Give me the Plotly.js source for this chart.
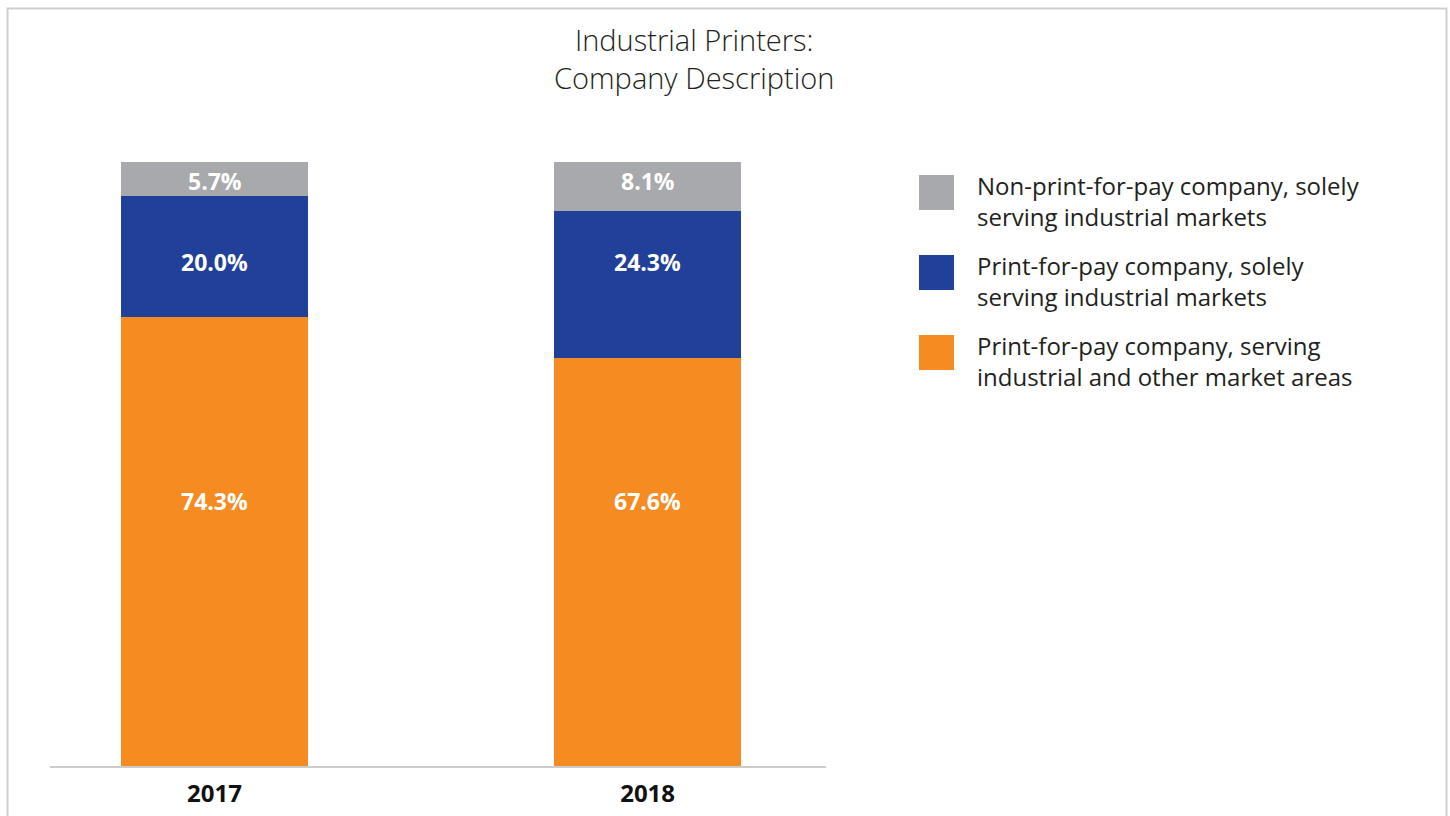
<!DOCTYPE html>
<html>
<head>
<meta charset="utf-8">
<script src="https://cdn.plot.ly/plotly-3.0.1.min.js"></script>
<style>html,body{margin:0;padding:0;background:#fff;}#chart{width:1450px;height:816px;}</style>
</head>
<body>
<div id="chart"></div>
<script>
// ---- data ----
const years = ['2017', '2018'];
const seriesNames = [
  'Print-for-pay company, serving<br>industrial and other market areas',
  'Print-for-pay company, solely<br>serving industrial markets',
  'Non-print-for-pay company, solely<br>serving industrial markets'
];
const seriesColors = ['#F68B21', '#21409A', '#A7A9AC'];
const printForPayMixed = [74.3, 67.6];
const printForPaySolely = [20.0, 24.3];
const nonPrintForPay = [5.7, 8.1];
const seriesValues = [printForPayMixed, printForPaySolely, nonPrintForPay];

// ---- layout constants (pixels) ----
const W = 1450, H = 816;
const plotL = 50, plotR = 826, plotT = 162, plotB = 766;
const pw = plotR - plotL, ph = plotB - plotT;
const pxX = x => (x - plotL) / pw;
const pxY = y => (plotB - y) / ph;
const labelRowsPx = [501, 262, 181]; // vertical label bands per series

const FONT = '"Open Sans", Lato, sans-serif';

const traces = seriesValues.map((vals, i) => ({
  type: 'bar',
  x: years,
  y: vals,
  name: seriesNames[i],
  marker: {color: seriesColors[i], line: {width: 0}},
  width: 0.432,
  hoverinfo: 'skip',
  showlegend: false
}));

const annotations = [];
seriesValues.forEach((vals, i) => {
  vals.forEach((v, j) => {
    annotations.push({
      x: j, xref: 'x',
      y: pxY(labelRowsPx[i]), yref: 'paper',
      text: v.toFixed(1) + '%',
      showarrow: false,
      xanchor: 'center', yanchor: 'middle',
      font: {family: FONT, size: 23, color: '#ffffff', weight: 'bold'}
    });
  });
});

// custom legend (top item = last series)
const shapes = [];
const legendOrder = [2, 1, 0];
legendOrder.forEach((si, k) => {
  const top = 175 + k * 80;
  shapes.push({
    type: 'rect', xref: 'paper', yref: 'paper',
    x0: pxX(919), x1: pxX(954), y0: pxY(top + 35), y1: pxY(top),
    fillcolor: seriesColors[si], line: {width: 0}
  });
  annotations.push({
    xref: 'paper', yref: 'paper',
    x: pxX(975), y: pxY(top - 8),
    xanchor: 'left', yanchor: 'top', align: 'left',
    text: seriesNames[si],
    showarrow: false,
    font: {family: FONT, size: 24, color: '#231F20'}
  });
});

// title
annotations.push({
  xref: 'paper', yref: 'paper',
  x: pxX(694), y: pxY(18),
  xanchor: 'center', yanchor: 'top', align: 'center',
  text: 'Industrial Printers:<br>Company Description',
  showarrow: false,
  font: {family: FONT, size: 29, color: '#231F20', weight: 300}
});

// outer frame
shapes.push({
  type: 'rect', xref: 'paper', yref: 'paper',
  x0: pxX(7.5), x1: pxX(1446.5), y0: pxY(830), y1: pxY(8.5),
  line: {color: '#cfcfcf', width: 2}, fillcolor: 'rgba(0,0,0,0)', layer: 'below'
});

const layout = {
  width: W, height: H,
  margin: {l: plotL, r: W - plotR, t: plotT, b: H - plotB, pad: 0},
  paper_bgcolor: '#ffffff', plot_bgcolor: '#ffffff',
  barmode: 'stack',
  xaxis: {
    type: 'category', range: [-0.38, 1.412],
    showline: true, linecolor: '#cccccc', linewidth: 1.5,
    showgrid: false, zeroline: false, ticks: '',
    tickfont: {family: FONT, size: 24, color: '#111111', weight: 'bold'},
    ticklabelstandoff: 6, fixedrange: true
  },
  yaxis: {range: [0, 100], visible: false, fixedrange: true},
  showlegend: false,
  annotations: annotations,
  shapes: shapes
};

Plotly.newPlot('chart', traces, layout, {displayModeBar: false, staticPlot: true});
</script>
</body>
</html>
